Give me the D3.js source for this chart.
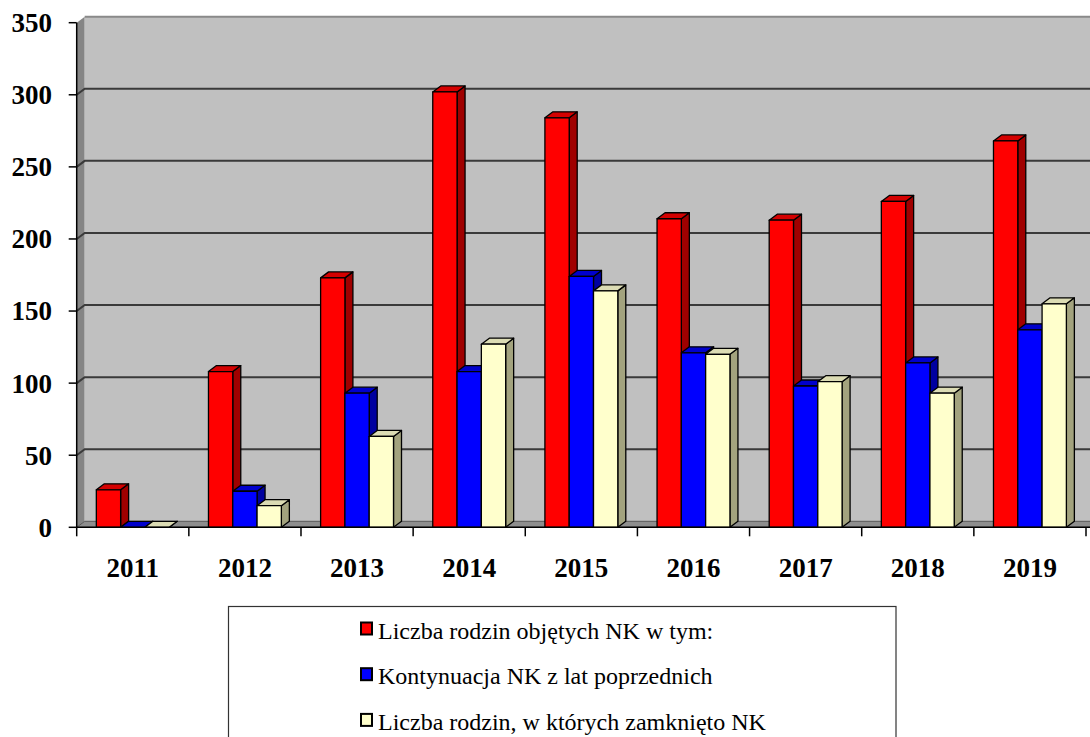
<!DOCTYPE html>
<meta charset="utf-8">
<style>
    body { margin: 0; background: #fff; }
    svg text { font-family: "Liberation Serif", "DejaVu Serif", serif; }
    .axis-label { font-size: 27px; font-weight: bold; fill: #000; }
    .legend text { font-size: 24px; fill: #000; }
</style>
<svg width="1090" height="737" font-family="Liberation Serif, DejaVu Serif, serif"></svg>

<script src="https://d3js.org/d3.v7.min.js"></script>
<script>
    var years = ["2011", "2012", "2013", "2014", "2015", "2016", "2017", "2018", "2019"];
    var seriesNames = ["Liczba rodzin objętych NK w tym:", "Kontynuacja NK z lat poprzednich", "Liczba rodzin, w których zamknięto NK"];
    var objete = [26, 108, 173, 302, 284, 214, 213, 226, 268];
    var kontynuacja = [0, 25, 93, 108, 174, 121, 98, 114, 137];
    var zamkniete = [0, 15, 63, 127, 164, 120, 101, 93, 155];
    var yTicks = [0, 50, 100, 150, 200, 250, 300, 350];

    var series = [objete, kontynuacja, zamkniete];
    var front = ["#ff0000", "#0000ff", "#ffffcc"];
    var side = ["#a00000", "#0000a0", "#a3a37e"];
    var top_ = ["#d40000", "#0000cc", "#dcdcb4"];

    var svg = d3.select("svg");
    var dx = 8, dy = -6;   // 3d depth
    var left = 76.7, right = 1086;

    var y = d3.scaleLinear().domain([0, 350]).range([527.3, 22.7]);
    var x0 = d3.scaleBand().domain(years).range([left, right])
        .paddingInner(0.35).paddingOuter(0.175);
    var x1 = d3.scaleBand().domain(d3.range(3)).range([0, x0.bandwidth()]);
    var step = x0.step();

    // walls
    svg.append("polygon")
        .attr("points", [[left, y(0)], [left, y(350)], [left + dx, y(350) + dy], [left + dx, y(0) + dy]].join(" "))
        .attr("fill", "#858585");
    svg.append("rect")
        .attr("x", left + dx).attr("y", y(350) + dy)
        .attr("width", 1090 - left - dx).attr("height", y(0) - y(350))
        .attr("fill", "#c0c0c0");
    svg.append("line")
        .attr("x1", left + dx).attr("x2", 1090)
        .attr("y1", y(350) + dy).attr("y2", y(350) + dy)
        .attr("stroke", "#8a8a8a").attr("stroke-width", 2);

    // gridlines on back and side wall
    var grid = svg.append("g");
    yTicks.filter(function(v) { return v > 0 && v < 350; }).forEach(function(v) {
        grid.append("polyline")
            .attr("points", [[left, y(v)], [left + dx, y(v) + dy], [1090, y(v) + dy]].join(" "))
            .attr("fill", "none").attr("stroke", "#3a3a3a").attr("stroke-width", 2);
    });

    // floor
    svg.append("polygon")
        .attr("points", [[left, y(0)], [left + dx, y(0) + dy], [1090 + dx, y(0) + dy], [1090, y(0)]].join(" "))
        .attr("fill", "#8e8e8e").attr("stroke", "#555").attr("stroke-width", 1);

    // bars
    var bars = svg.append("g");
    years.forEach(function(yr, i) {
        series.forEach(function(s, k) {
            var v = s[i];
            var bx = x0(yr) + x1(k), bw = x1.bandwidth();
            var yt = y(v), yb = y(0);
            var g = bars.append("g").attr("stroke", "#000").attr("stroke-width", 1.3).attr("stroke-linejoin", "round");
            g.append("polygon")
                .attr("points", [[bx + bw, yt], [bx + bw + dx, yt + dy], [bx + bw + dx, yb + dy], [bx + bw, yb]].join(" "))
                .attr("fill", side[k]);
            g.append("polygon")
                .attr("points", [[bx, yt], [bx + dx, yt + dy], [bx + bw + dx, yt + dy], [bx + bw, yt]].join(" "))
                .attr("fill", top_[k]);
            if (v > 0) {
                g.append("rect")
                    .attr("x", bx).attr("y", yt)
                    .attr("width", bw).attr("height", yb - yt)
                    .attr("fill", front[k]);
            }
        });
    });

    // y axis
    svg.append("line")
        .attr("x1", left).attr("x2", left).attr("y1", y(0)).attr("y2", y(350))
        .attr("stroke", "#000").attr("stroke-width", 1.5);
    var ya = svg.append("g");
    yTicks.forEach(function(v) {
        ya.append("line")
            .attr("x1", left - 8).attr("x2", left).attr("y1", y(v)).attr("y2", y(v))
            .attr("stroke", "#000").attr("stroke-width", 1.5);
        ya.append("text").attr("class", "axis-label")
            .attr("x", 52).attr("y", y(v)).attr("dy", "0.35em")
            .attr("text-anchor", "end")
            .text(v);
    });

    // x axis
    svg.append("line")
        .attr("x1", left).attr("x2", 1090).attr("y1", y(0)).attr("y2", y(0))
        .attr("stroke", "#000").attr("stroke-width", 1.5);
    var xa = svg.append("g");
    d3.range(years.length + 1).forEach(function(i) {
        var tx = left + i * step;
        xa.append("line")
            .attr("x1", tx).attr("x2", tx).attr("y1", y(0)).attr("y2", y(0) + 9)
            .attr("stroke", "#000").attr("stroke-width", 1.5);
    });
    years.forEach(function(yr) {
        xa.append("text").attr("class", "axis-label")
            .attr("x", x0(yr) + x0.bandwidth() / 2).attr("y", 577)
            .attr("text-anchor", "middle")
            .text(yr);
    });

    // legend
    var lg = svg.append("g").attr("class", "legend");
    lg.append("rect")
        .attr("x", 228.5).attr("y", 606.5).attr("width", 667.5).attr("height", 140)
        .attr("fill", "#fff").attr("stroke", "#333").attr("stroke-width", 1.2);
    seriesNames.forEach(function(name, k) {
        var cy = 628.5 + k * 45.7;
        lg.append("rect")
            .attr("x", 361).attr("y", cy - 6)
            .attr("width", 11).attr("height", 12)
            .attr("fill", front[k]).attr("stroke", "#000").attr("stroke-width", 2);
        lg.append("text")
            .attr("x", 378).attr("y", cy + 10)
            .text(name);
    });
</script>
